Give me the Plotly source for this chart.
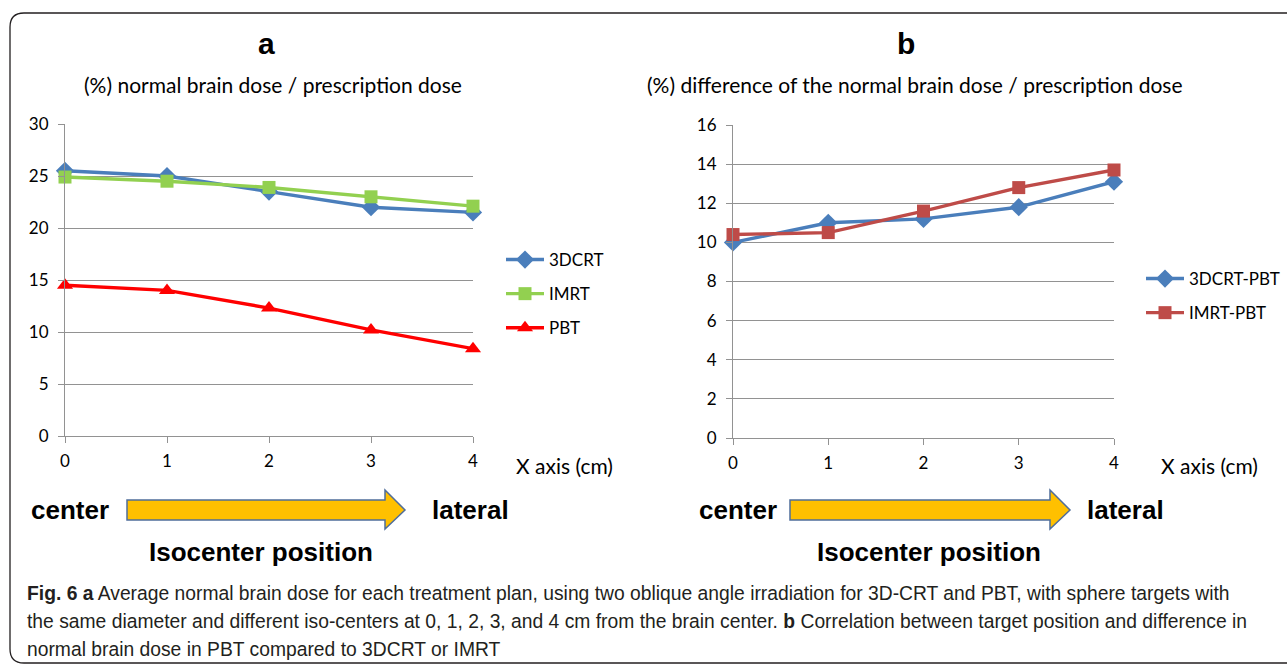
import plotly.graph_objects as go

W, H = 1287, 664

x_cm = [0, 1, 2, 3, 4]
x_tick_labels = ["0", "1", "2", "3", "4"]

dose_3dcrt = [25.5, 25.0, 23.5, 22.0, 21.5]
dose_imrt = [24.9, 24.5, 23.9, 23.0, 22.1]
dose_pbt = [14.5, 14.0, 12.3, 10.2, 8.4]

diff_3dcrt_pbt = [10.0, 11.0, 11.2, 11.8, 13.1]
diff_imrt_pbt = [10.4, 10.5, 11.6, 12.8, 13.7]

ya_ticks = [0, 5, 10, 15, 20, 25, 30]
yb_ticks = [0, 2, 4, 6, 8, 10, 12, 14, 16]


def px(x):
    return x / W


def py(y):
    return 1 - y / H


BLUE = "#4A7EBB"
GREEN = "#92D050"
RED = "#FF0000"
DRED = "#BE4B48"
GRID = "#929292"
FONT = "Lato, Open Sans, sans-serif"
NARROW = "Liberation Sans, Arial, sans-serif"

fig = go.Figure()


def add(x, y, name, color, symbol, size, xa, ya, legend, group):
    fig.add_trace(go.Scatter(
        x=x, y=y, name=name, mode="lines+markers",
        line=dict(color=color, width=3.4),
        marker=dict(color=color, symbol=symbol, size=size),
        xaxis=xa, yaxis=ya, legend=legend, legendgroup=group,
        cliponaxis=False,
    ))


add(x_cm, dose_3dcrt, "3DCRT", BLUE, "diamond", 14, "x", "y", "legend", "a1")
add(x_cm, dose_imrt, "IMRT", GREEN, "square", 13, "x", "y", "legend", "a2")
add(x_cm, dose_pbt, "PBT", RED, "triangle-up", 14, "x", "y", "legend", "a3")
add(x_cm, diff_3dcrt_pbt, "3DCRT-PBT", BLUE, "diamond", 14, "x2", "y2", "legend2", "b1")
add(x_cm, diff_imrt_pbt, "IMRT-PBT", DRED, "square", 13, "x2", "y2", "legend2", "b2")

xcommon = dict(range=[0, 4], tickvals=x_cm, ticktext=x_tick_labels,
               showline=True, linecolor=GRID, linewidth=1,
               ticks="outside", ticklen=6, tickcolor=GRID,
               showgrid=False, zeroline=False, ticklabelstandoff=4,
               tickfont=dict(family=FONT, size=17, color="#000"))
ycommon = dict(showline=True, linecolor=GRID, linewidth=1,
               ticks="outside", ticklen=6, tickcolor=GRID,
               showgrid=True, gridcolor=GRID, gridwidth=1, zeroline=False,
               ticklabelstandoff=6,
               tickfont=dict(family=FONT, size=17, color="#000"))

fig.update_layout(
    width=W, height=H,
    margin=dict(l=0, r=0, t=0, b=0, autoexpand=False),
    paper_bgcolor="white", plot_bgcolor="white",
    showlegend=True,
    xaxis=dict(domain=[px(65), px(473)], anchor="y", **xcommon),
    yaxis=dict(domain=[py(436), py(124)], anchor="x", range=[0, 30],
               tickvals=ya_ticks, **ycommon),
    xaxis2=dict(domain=[px(733), px(1114)], anchor="y2", **xcommon),
    yaxis2=dict(domain=[py(438), py(125)], anchor="x2", range=[0, 16],
                tickvals=yb_ticks, **ycommon),
    legend=dict(x=px(501), y=py(242), xanchor="left", yanchor="top",
                traceorder="grouped", tracegroupgap=9, itemwidth=38,
                font=dict(family=FONT, size=17, color="#000"),
                bgcolor="rgba(0,0,0,0)", itemclick=False),
    legend2=dict(x=px(1141), y=py(261), xanchor="left", yanchor="top",
                 traceorder="grouped", tracegroupgap=9, itemwidth=38,
                 font=dict(family=FONT, size=17, color="#000"),
                 bgcolor="rgba(0,0,0,0)", itemclick=False),
)

ann = []


def text(x, y, t, size, family=FONT, anchor="center", bold=False, color="#000"):
    if bold:
        t = "<b>" + t + "</b>"
    ann.append(dict(x=px(x), y=py(y), xref="paper", yref="paper", text=t,
                    showarrow=False, xanchor=anchor, yanchor="middle",
                    font=dict(family=family, size=size, color=color)))


text(266, 43, "a", 30, family="Liberation Sans, Arial", bold=True)
text(906, 43, "b", 30, family="Liberation Sans, Arial", bold=True)
text(273, 84, "(%) normal brain dose / prescription dose", 21)
text(915, 84, "(%) difference of the normal brain dose / prescription dose", 21)
text(514, 465, "X axis (cm)", 21, anchor="left")
text(1159, 465, "X axis (cm)", 21, anchor="left")

for cx, lx, ix in [(29, 430, 261), (697, 1085, 929)]:
    text(cx, 510, "center", 26, family=NARROW, anchor="left", bold=True)
    text(lx, 510, "lateral", 26, family=NARROW, anchor="left", bold=True)
    text(ix, 552, "Isocenter position", 26, family=NARROW, bold=True)

cap_lines = [
    "<b>Fig. 6 a</b> Average normal brain dose for each treatment plan, using two oblique angle irradiation for 3D-CRT and PBT, with sphere targets with",
    "the same diameter and different iso-centers at 0, 1, 2, 3, and 4 cm from the brain center. <b>b</b> Correlation between target position and difference in",
    "normal brain dose in PBT compared to 3DCRT or IMRT",
]
for i, line in enumerate(cap_lines):
    text(25, 593 + 28 * i, line, 19.3, family=NARROW, anchor="left", color="#231F20")

fig.update_layout(annotations=ann)

shapes = []
# arrows
for x0, x1 in [(127, 405), (790, 1070)]:
    hx = x1 - 20
    pts = [(x0, 500), (hx, 500), (hx, 490), (x1, 510), (hx, 529), (hx, 520), (x0, 520)]
    path = "M " + " L ".join(f"{px(a)},{py(b)}" for a, b in pts) + " Z"
    shapes.append(dict(type="path", path=path, xref="paper", yref="paper",
                       fillcolor="#FFC000", line=dict(color="#4F6D9B", width=1.5)))

# rounded border
r = 14
L, T, R, B = 10, 13, 1300, 663
bp = (f"M {px(L)},{py(T + r)} Q {px(L)},{py(T)} {px(L + r)},{py(T)} "
      f"L {px(R)},{py(T)} L {px(R)},{py(B)} L {px(L + r)},{py(B)} "
      f"Q {px(L)},{py(B)} {px(L)},{py(B - r)} Z")
shapes.append(dict(type="path", path=bp, xref="paper", yref="paper",
                   line=dict(color="#231F20", width=1.3), layer="below"))

fig.update_layout(shapes=shapes)

fig.write_html(
    "out.html",
    config={"displayModeBar": False},
    post_script="document.body.style.margin='0';document.body.style.overflow='hidden';",
)
